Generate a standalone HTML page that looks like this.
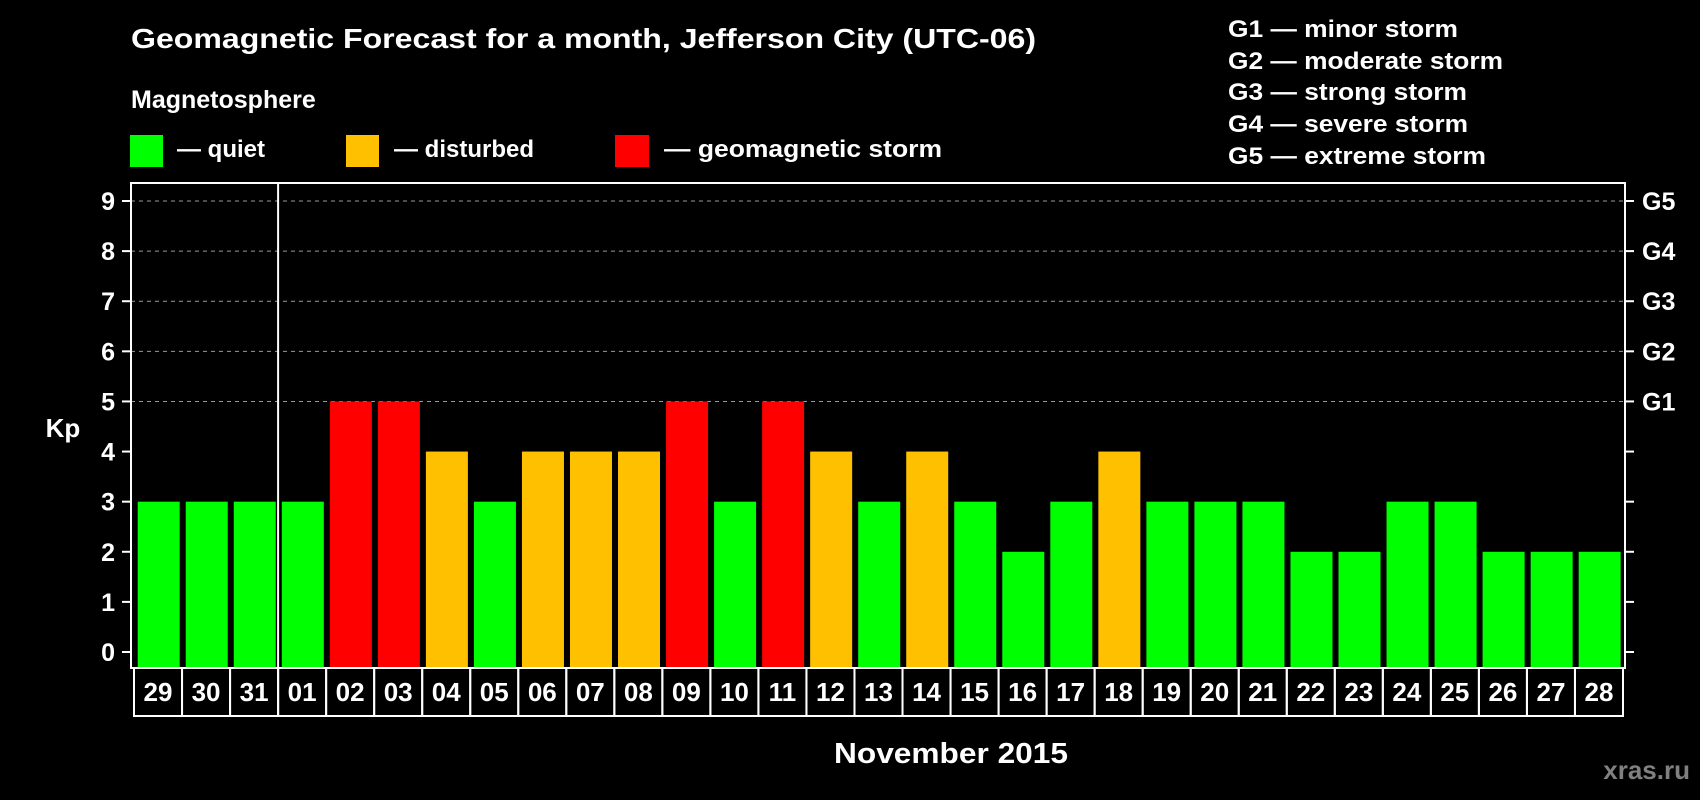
<!DOCTYPE html>
<html><head><meta charset="utf-8"><style>
html,body{margin:0;padding:0;background:#000;}
svg{display:block;font-family:"Liberation Sans",Arial,sans-serif;font-weight:bold;}
</style></head><body>
<svg id="chart" width="1700" height="800" viewBox="0 0 1700 800" xmlns="http://www.w3.org/2000/svg">
<rect x="0" y="0" width="1700" height="800" fill="#000"/>
<text x="131" y="48" font-size="28" fill="#fff" textLength="905" lengthAdjust="spacingAndGlyphs">Geomagnetic Forecast for a month, Jefferson City (UTC-06)</text>
<text x="131" y="108" font-size="25" fill="#fff">Magnetosphere</text>
<rect x="130" y="135" width="33" height="32" fill="#00ff00"/>
<text x="177" y="157" font-size="24" fill="#fff">— quiet</text>
<rect x="346" y="135" width="33" height="32" fill="#ffc000"/>
<text x="394" y="157" font-size="24" fill="#fff">— disturbed</text>
<rect x="615" y="135" width="34" height="32" fill="#ff0000"/>
<text x="664" y="157" font-size="24" fill="#fff" textLength="278" lengthAdjust="spacingAndGlyphs">— geomagnetic storm</text>
<g font-size="24" fill="#fff">
<text x="1228" y="37" textLength="230" lengthAdjust="spacingAndGlyphs">G1 — minor storm</text>
<text x="1228" y="69" textLength="275" lengthAdjust="spacingAndGlyphs">G2 — moderate storm</text>
<text x="1228" y="100" textLength="239" lengthAdjust="spacingAndGlyphs">G3 — strong storm</text>
<text x="1228" y="132" textLength="240" lengthAdjust="spacingAndGlyphs">G4 — severe storm</text>
<text x="1228" y="164" textLength="258" lengthAdjust="spacingAndGlyphs">G5 — extreme storm</text>
</g>
<text x="63" y="437" font-size="26" fill="#fff" text-anchor="middle">Kp</text>
<text x="951" y="763" font-size="29" fill="#fff" text-anchor="middle" textLength="234" lengthAdjust="spacingAndGlyphs">November 2015</text>
<text x="1690" y="779" font-size="26" fill="#808080" text-anchor="end">xras.ru</text>
<g id="plot"></g>
</svg>
<script>
const days = ["29","30","31","01","02","03","04","05","06","07","08","09","10","11","12","13","14","15","16","17","18","19","20","21","22","23","24","25","26","27","28"];
const kpValues = [3,3,3,3,5,5,4,3,4,4,4,5,3,5,4,3,4,3,2,3,4,3,3,3,2,2,3,3,2,2,2];
const yTicks = [0,1,2,3,4,5,6,7,8,9];
const gLabels = ["G1","G2","G3","G4","G5"];
const gLevels = [5,6,7,8,9];

const NS = "http://www.w3.org/2000/svg";
const plot = document.getElementById("plot");
const L = 131, R = 1625, T = 183, B = 668;
const y0 = 652, unit = (652 - 201) / 9;
const yScale = v => y0 - v * unit;
const slotStart = 134, slotW = (1623 - 134) / days.length;
const xScale = i => slotStart + i * slotW;
function mk(tag, attrs, parent) {
  const e = document.createElementNS(NS, tag);
  for (const k in attrs) e.setAttribute(k, attrs[k]);
  (parent || plot).appendChild(e);
  return e;
}
function color(v) { return v >= 5 ? "#ff0000" : (v >= 4 ? "#ffc000" : "#00ff00"); }

// grid lines
gLevels.forEach((lv, i) => {
  const g = mk("line", {x1: L, x2: R, y1: yScale(lv), y2: yScale(lv), stroke: "#9a9a9a", "stroke-width": 1, "stroke-dasharray": "4,4"});
  
  
  const t = mk("text", {x: 1642, y: yScale(lv) + 9, "font-size": 25, fill: "#fff"});
  t.textContent = gLabels[i];
  
  
});
// bars
kpValues.forEach((v, i) => {
  const x = xScale(i) + 3.7;
  const b = mk("rect", {x: x, y: yScale(v), width: 42, height: (B - 1) - yScale(v), fill: color(v)});
  
  
});
// frame
const fr = mk("rect", {x: L, y: T, width: R - L, height: B - T, fill: "none", stroke: "#fff", "stroke-width": 2});


// ticks
yTicks.forEach(v => {
  const tl = mk("line", {x1: 122, x2: L, y1: yScale(v), y2: yScale(v), stroke: "#fff", "stroke-width": 2});
  
  
  const tr = mk("line", {x1: R, x2: 1634, y1: yScale(v), y2: yScale(v), stroke: "#fff", "stroke-width": 2});
  
  
  const t = mk("text", {x: 115, y: yScale(v) + 9, "font-size": 25, fill: "#fff", "text-anchor": "end"});
  t.textContent = String(v);
  
  
});
// date boxes
days.forEach((d, i) => {
  const r = mk("rect", {x: xScale(i), y: B, width: slotW, height: 716 - B, fill: "none", stroke: "#fff", "stroke-width": 2});
  
  
  const t = mk("text", {x: xScale(i) + slotW / 2, y: 701, "font-size": 26, fill: "#fff", "text-anchor": "middle"});
  t.textContent = d;
  
  
});
// month separator
const sepIdx = days.indexOf("01");
const sep = mk("line", {x1: xScale(sepIdx), x2: xScale(sepIdx), y1: T, y2: 716, stroke: "#fff", "stroke-width": 2});


</script>
</body></html>
